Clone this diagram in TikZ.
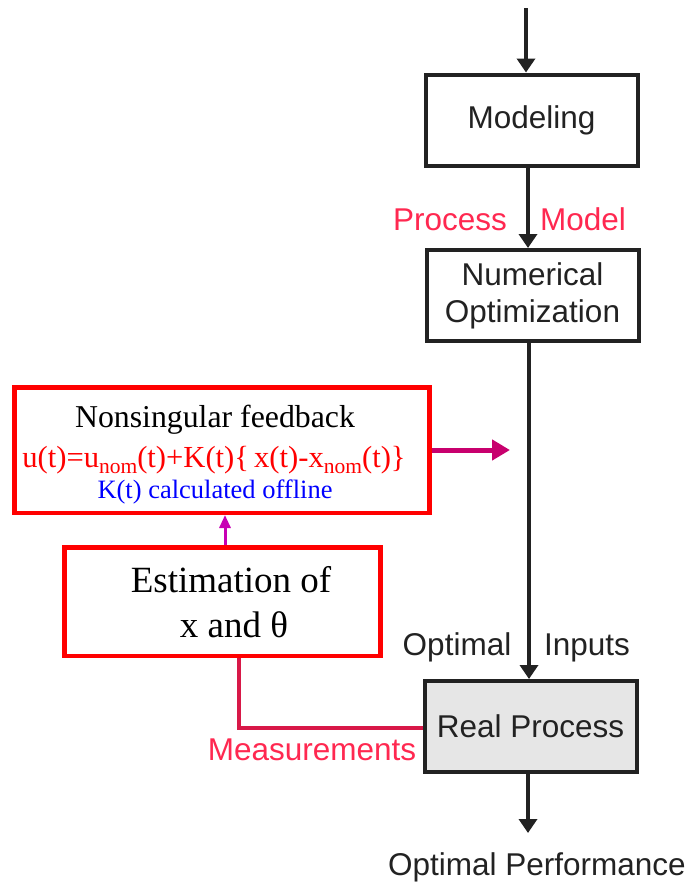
\documentclass[tikz,border=0pt]{standalone}
\usepackage{fontspec}
\setmainfont{Liberation Serif}
\newfontfamily\arialf{Liberation Sans}
\usetikzlibrary{arrows.meta}
\definecolor{dk}{HTML}{222222}
\definecolor{pinkred}{HTML}{FF2850}
\definecolor{measline}{HTML}{D81848}
\definecolor{fbarrow}{HTML}{C8006E}
\definecolor{uparrow}{HTML}{C800B4}
\definecolor{boxgray}{HTML}{E6E6E6}
\newcommand{\mysub}[1]{\raisebox{-6pt}{\fontsize{21.5}{24}\selectfont #1}}
\tikzset{
  blkbox/.style={draw=dk, line width=4pt, inner sep=0pt, minimum width=212pt, minimum height=91pt, font=\arialf\fontsize{31.5}{37}\selectfont, text=dk, align=center},
  redbox/.style={draw=red, line width=4.5pt, inner sep=0pt},
  blkarrow/.style={draw=dk, line width=3.5pt, -{Triangle[length=14pt,width=18pt]}},
  sanslbl/.style={font=\arialf\fontsize{31.5}{36}\selectfont, anchor=base},
  redlbl/.style={sanslbl, text=pinkred},
  serlbl/.style={anchor=base, inner sep=0pt}
}
\begin{document}
\begin{tikzpicture}[x=1pt,y=-1pt]
\useasboundingbox (0,0) rectangle (688,884);
% right column boxes
\node[blkbox] (mod) at (531.5,120) {Modeling};
\node[blkbox] (num) at (532.5,295.5) {Numerical\\Optimization};
\node[blkbox, fill=boxgray] (real) at (530.5,726.5) {Real Process};
\coordinate (top) at (526,8);
\coordinate (perf) at (528,833);
\draw[blkarrow] (top) -- (top |- mod.north);
\draw[blkarrow] ([xshift=-3.5pt]mod.south) -- ([xshift=-4.5pt]num.north);
\draw[blkarrow] ([xshift=-3.5pt]num.south) -- ([xshift=-1.5pt]real.north);
\draw[blkarrow] ([xshift=-2.5pt]real.south) -- (perf);
\node[redlbl] (pl) at (450,230) {Process};
\node[redlbl] (ml) at (583,230) {Model};
\node[sanslbl, text=dk] (ol) at (457,655) {Optimal};
\node[sanslbl, text=dk] (il) at (587,655) {Inputs};
\node[sanslbl, text=dk] (opl) at (537,875) {Optimal Performance};
% feedback box
\node[redbox, minimum width=415pt, minimum height=125.5pt] (fb) at (222,450) {};
\node[serlbl, font=\fontsize{31.8}{36}\selectfont] (fb1) at (215,427) {Nonsingular feedback};
\node[serlbl, text=red, font=\fontsize{30.6}{36}\selectfont] (fb2) at (214,467) {u(t)=u\mysub{nom}(t)+K(t)\{\,x(t)-x\mysub{nom}(t)\}};
\node[serlbl, text=blue, font=\fontsize{26.5}{32}\selectfont] (fb3) at (215,498) {K(t) calculated offline};
% estimation box
\node[redbox, minimum width=316pt, minimum height=108.5pt] (est) at (222.5,601.5) {};
\node[serlbl, font=\fontsize{37}{44}\selectfont] (e1) at (231,592) {Estimation of};
\node[serlbl, font=\fontsize{37}{44}\selectfont] (e2) at (234,637) {x and θ};
% connectors
\coordinate (fbend) at (510,450);
\draw[fbarrow, line width=5pt, -{Triangle[length=18pt,width=20pt]}] (fb.east) -- (fbend);
\draw[uparrow, line width=3pt, -{Triangle[length=13pt,width=11pt]}] (225,0 |- est.north) -- (225,0 |- fb.south);
\coordinate (mcorner) at (239,728);
\draw[measline, line width=4.5pt] (239,0 |- est.south) -- (mcorner) -- (mcorner -| real.west);
\node[redlbl] (meas) at (312,760) {Measurements};
\end{tikzpicture}
\end{document}
